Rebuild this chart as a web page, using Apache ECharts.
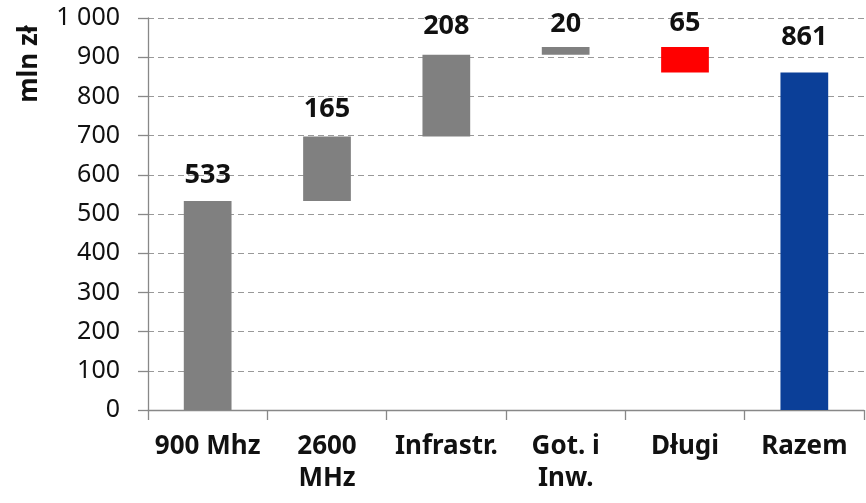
<!DOCTYPE html>
<html>
<head>
<meta charset="utf-8">
<script src="https://cdn.jsdelivr.net/npm/echarts@6/dist/echarts.min.js"></script>
<style>html,body{margin:0;padding:0;background:#fff}#c{width:866px;height:503px}</style>
</head>
<body>
<div id="c"></div>
<script>
var categories = ['900 Mhz', '2600\nMHz', 'Infrastr.', 'Got. i\nInw.', 'Długi', 'Razem'];
var changes = [533, 165, 208, 20, -65, 861];
var isTotal = [false, false, false, false, false, true];
var colors = ['#808080', '#808080', '#808080', '#808080', '#FF0000', '#0B3F98'];
var labelDist = [12, 14, 15, 9, 10, 22];
var yTicks = [0, 100, 200, 300, 400, 500, 600, 700, 800, 900, 1000];

var base = [], vis = [];
var run = 0;
for (var i = 0; i < changes.length; i++) {
  var v = changes[i];
  if (isTotal[i]) { base.push(0); vis.push(v); run = v; }
  else if (v >= 0) { base.push(run); vis.push(v); run += v; }
  else { run += v; base.push(run); vis.push(-v); }
}

var chart = echarts.init(document.getElementById('c'));
var FONT = 'Noto Sans';
chart.setOption({
  animation: false,
  grid: { left: 148, right: 2, top: 18, bottom: 93, containLabel: false },
  xAxis: {
    type: 'category',
    data: categories,
    axisLine: { lineStyle: { color: '#888', width: 1.3 } },
    axisTick: { show: true, length: 10, alignWithLabel: false, lineStyle: { color: '#888', width: 1.3 } },
    axisLabel: { color: '#111', fontFamily: FONT, fontWeight: 'bold', fontSize: 26, margin: 21, lineHeight: 32, interval: 0 }
  },
  yAxis: {
    type: 'value',
    min: 0, max: 1000, interval: 100,
    axisLine: { show: true, lineStyle: { color: '#888', width: 1.3 } },
    axisTick: { show: true, length: 10, lineStyle: { color: '#888', width: 1.3 } },
    splitLine: { show: true, lineStyle: { color: '#999', type: [6, 4], width: 1.2 } },
    axisLabel: {
      color: '#111', fontFamily: FONT, fontSize: 25, margin: 28,
      formatter: function (val) { return yTicks.indexOf(val) >= 0 ? (val >= 1000 ? '1 000' : String(val)) : ''; }
    }
  },
  graphic: [{
    type: 'text', rotation: Math.PI / 2,
    style: { text: 'mln zł', font: 'bold 26px "Noto Sans"', fill: '#111', textAlign: 'center', textVerticalAlign: 'middle' },
    position: [30, 64]
  }],
  series: [
    {
      type: 'bar', stack: 'w', data: base, barWidth: '40%',
      itemStyle: { color: 'transparent' }, silent: true
    },
    {
      type: 'bar', stack: 'w', barWidth: '40%',
      data: vis.map(function (v, i) {
        return {
          value: v,
          itemStyle: { color: colors[i] },
          label: { distance: labelDist[i] }
        };
      }),
      label: {
        show: true, position: 'top', color: '#111', fontFamily: FONT, fontWeight: 'bold', fontSize: 27,
        formatter: function (p) { return String(Math.abs(changes[p.dataIndex])); }
      }
    }
  ]
});
</script>
</body>
</html>
